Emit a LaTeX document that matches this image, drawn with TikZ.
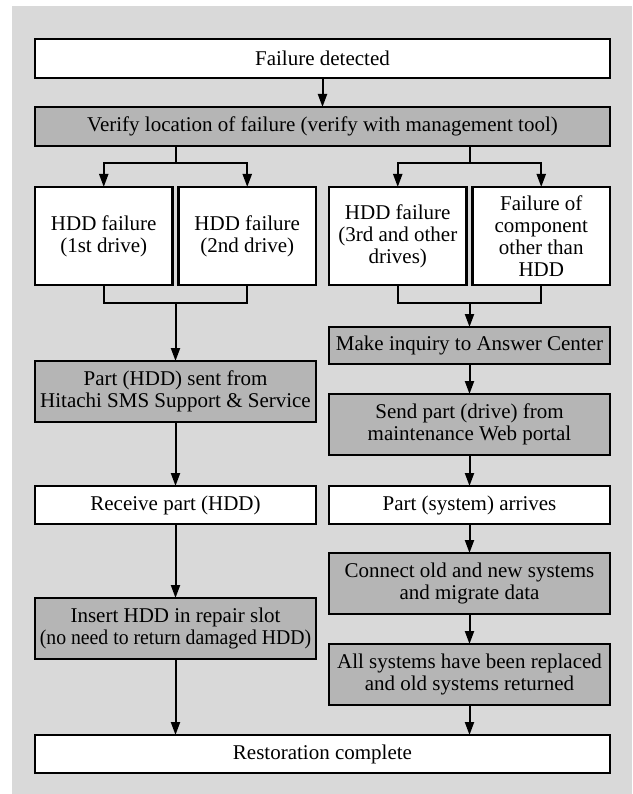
\documentclass[tikz,border=0pt]{standalone}
\usepackage{fontspec}
\setmainfont{Liberation Serif}
\newfontfamily\narrowfont{Liberation Serif}[FakeStretch=0.94]
\usetikzlibrary{positioning, arrows.meta}
\definecolor{panel}{gray}{0.85}
\definecolor{boxgray}{gray}{0.71}

\begin{document}
\begin{tikzpicture}[x=1pt, y=1pt, inner sep=0pt, outer sep=0pt,
  white node/.style={draw, line width=2.2pt, fill=white, align=center, font=\fontsize{21}{22}\selectfont},
  gray node/.style={white node, fill=boxgray},
  link/.style={line width=2pt},
  arrow/.style={link, -{Triangle[length=13pt,width=9pt]}}]

\useasboundingbox (0,0) rectangle (632,-794);
\fill[panel] (12,-6) rectangle (632,-794);

\node[white node, minimum width=575pt, minimum height=39pt] (A) at (322.5,-58.5) {Failure detected};
\node[gray node, minimum width=575pt, minimum height=39pt] (B) [below=29pt of A] {Verify location of failure (verify with management tool)};

\node[white node, minimum width=137.5pt, minimum height=98pt] (C) [below=41pt of B.south west, anchor=north west] {HDD failure\\(1st drive)};
\node[white node, minimum width=137.5pt, minimum height=98pt] (D) [right=6pt of C] {HDD failure\\(2nd drive)};
\node[white node, minimum width=137.5pt, minimum height=98pt] (E) [right=13pt of D] {HDD failure\\(3rd and other\\drives)};
\node[white node, minimum width=137.5pt, minimum height=98pt] (F) [right=6pt of E] {Failure of\\component\\other than\\HDD};

% left column
\node[gray node, minimum width=281pt, minimum height=61pt] (G) [below=76pt of C.south west, anchor=north west] {Part (HDD) sent from\\Hitachi SMS Support \& Service};
\node[white node, minimum width=281pt, minimum height=38pt] (H) [below=64pt of G] {Receive part (HDD)};
\node[gray node, minimum width=281pt, minimum height=61pt] (I) [below=74pt of H] {Insert HDD in repair slot\\{\narrowfont(no need to return damaged HDD)}};

% right column
\node[gray node, minimum width=281pt, minimum height=37pt] (J) [below=42pt of E.south west, anchor=north west] {Make inquiry to Answer Center};
\node[gray node, minimum width=281pt, minimum height=61pt] (K) [below=30pt of J] {Send part (drive) from\\maintenance Web portal};
\node[white node, minimum width=281pt, minimum height=38pt] (L) [below=31pt of K] {Part (system) arrives};
\node[gray node, minimum width=281pt, minimum height=61pt] (M) [below=29pt of L] {Connect old and new systems\\and migrate data};
\node[gray node, minimum width=281pt, minimum height=61pt] (N) [below=30pt of M] {All systems have been replaced\\and old systems returned};

\coordinate (n) at (A |- N.south);
\node[white node, minimum width=575pt, minimum height=38pt] (O) [below=30pt of n] {Restoration complete};

% split and join
\draw[link] (B.south -| G) -- ++(0,-17) coordinate (b1);
\draw[arrow] (b1) -| (C);
\draw[arrow] (b1) -| (D);
\draw[link] (B.south -| J) -- ++(0,-17) coordinate (b2);
\draw[arrow] (b2) -| (E);
\draw[arrow] (b2) -| (F);

\path (C.south -| G) ++(0,-18) coordinate (j1);
\path (E.south -| J) ++(0,-18) coordinate (j2);
\draw[link] (C.south) |- (j1) -| (D.south);
\draw[link] (E.south) |- (j2) -| (F.south);

\path[arrow]
(A) edge (B)
(j1) edge (G)
(G) edge (H)
(H) edge (I)
(j2) edge (J)
(J) edge (K)
(K) edge (L)
(L) edge (M)
(M) edge (N)
;

\draw[arrow] (I) -- (I |- O.north);
\draw[arrow] (N) -- (N |- O.north);
\end{tikzpicture}
\end{document}
